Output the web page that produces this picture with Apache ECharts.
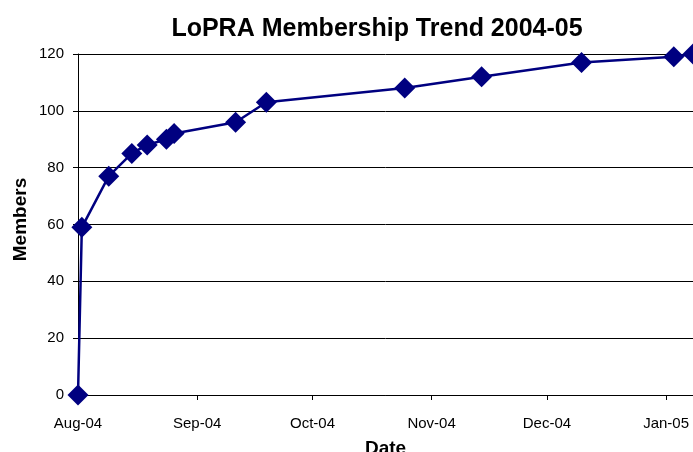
<!DOCTYPE html>
<html lang="en" style="height: 100%">
<head>
  <meta charset="utf-8">
</head>
<body style="height: 100%; margin: 0">
  <div id="container" style="height: 100%"></div>
  <script type="text/javascript" src="https://fastly.jsdelivr.net/npm/echarts@6.0.0/dist/echarts.min.js"></script>
  <script type="text/javascript">
    // membership counts
    const dates = ['2004-08-01', '2004-08-02', '2004-08-09', '2004-08-15', '2004-08-19',
      '2004-08-24', '2004-08-26', '2004-09-11', '2004-09-19', '2004-10-25',
      '2004-11-14', '2004-12-10', '2005-01-03', '2005-01-08'];
    const members = [0, 59, 77, 85, 88, 90, 92, 96, 103, 108, 112, 117, 119, 120];

    const tickDates = ['2004-08-01', '2004-09-01', '2004-10-01', '2004-11-01', '2004-12-01', '2005-01-01'];
    const tickLabels = ['Aug-04', 'Sep-04', 'Oct-04', 'Nov-04', 'Dec-04', 'Jan-05'];

    const xMin = '2004-08-01';
    const xMax = '2005-01-08';

    const toTime = function (s) { return Date.parse(s); };
    const tickValues = tickDates.map(toTime);

    var dom = document.getElementById('container');
    var myChart = echarts.init(dom, null, { renderer: 'canvas' });

    var option = {
      animation: false,
      title: {
        text: 'LoPRA Membership Trend 2004-05',
        left: 372,
        top: 12,
        textAlign: 'center',
        textStyle: {
          fontFamily: 'Liberation Sans, Arial, sans-serif',
          fontSize: 25,
          fontWeight: 'bold',
          color: '#000'
        }
      },
      grid: {
        left: 78,
        right: 0,
        top: 54,
        bottom: 57,
        containLabel: false,
        outerBoundsMode: 'none'
      },
      xAxis: {
        type: 'value',
        min: toTime(xMin),
        max: toTime(xMax),
        name: 'Date',
        nameLocation: 'middle',
        nameGap: 44,
        nameMoveOverlap: false,
        nameTextStyle: {
          fontFamily: 'Liberation Sans, Arial, sans-serif',
          fontSize: 19,
          fontWeight: 'bold',
          color: '#000'
        },
        axisLine: { show: true, lineStyle: { color: '#000', width: 1 } },
        axisTick: {
          show: true,
          length: 5,
          customValues: tickValues,
          lineStyle: { color: '#000' }
        },
        axisLabel: {
          customValues: tickValues,
          margin: 21,
          fontFamily: 'Liberation Sans, Arial, sans-serif',
          fontSize: 15,
          color: '#000',
          formatter: function (v) {
            const i = tickValues.indexOf(v);
            return i >= 0 ? tickLabels[i] : '';
          }
        },
        splitLine: { show: false }
      },
      yAxis: {
        type: 'value',
        min: 0,
        max: 120,
        interval: 20,
        name: 'Members',
        nameLocation: 'middle',
        nameRotate: 90,
        nameGap: 48,
        nameMoveOverlap: false,
        nameTextStyle: {
          fontFamily: 'Liberation Sans, Arial, sans-serif',
          fontSize: 19,
          fontWeight: 'bold',
          color: '#000',
          padding: [0, 0, 0, 10]
        },
        axisLine: { show: true, lineStyle: { color: '#000', width: 1 } },
        axisTick: { show: true, length: 5, lineStyle: { color: '#000' } },
        axisLabel: {
          margin: 14,
          fontFamily: 'Liberation Sans, Arial, sans-serif',
          fontSize: 15,
          color: '#000'
        },
        splitLine: { show: true, lineStyle: { color: '#000', width: 1 } }
      },
      series: [
        {
          type: 'line',
          data: dates.map(function (d, i) { return [toTime(d), members[i]]; }),
          symbol: 'diamond',
          symbolSize: 21,
          clip: false,
          lineStyle: { color: '#000080', width: 2.5 },
          itemStyle: { color: '#000080' }
        }
      ]
    };

    myChart.setOption(option);
    window.addEventListener('resize', myChart.resize);
  </script>
</body>
</html>
